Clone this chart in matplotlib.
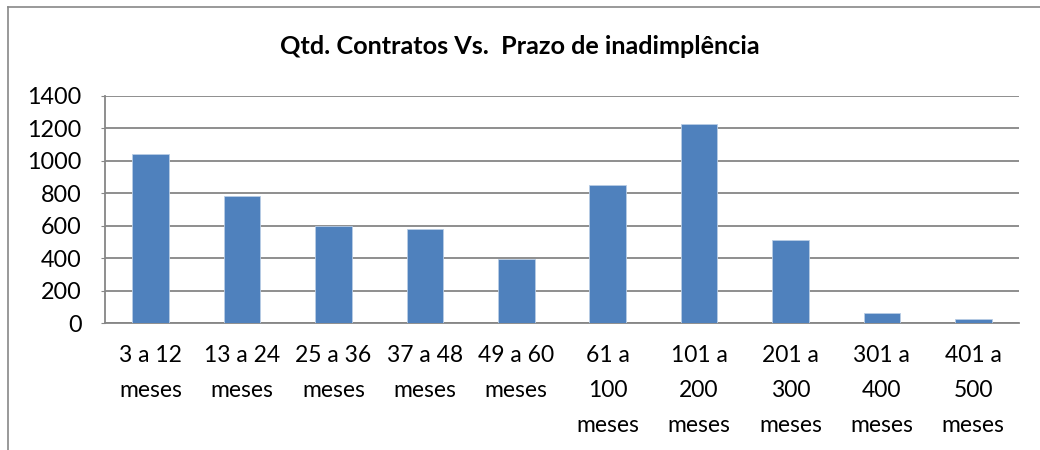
import matplotlib
matplotlib.use("Agg")
from matplotlib import pyplot as plt
from matplotlib.lines import Line2D

# categorias e valores
categories = ["3 a 12\nmeses", "13 a 24\nmeses", "25 a 36\nmeses", "37 a 48\nmeses",
              "49 a 60\nmeses", "61 a\n100\nmeses", "101 a\n200\nmeses", "201 a\n300\nmeses",
              "301 a\n400\nmeses", "401 a\n500\nmeses"]
contratos = [1040, 785, 600, 582, 397, 850, 1230, 512, 62, 22]
y_ticks = [0, 200, 400, 600, 800, 1000, 1200, 1400]

title = "Qtd. Contratos Vs.  Prazo de inadimplência"

plt.rcParams['font.family'] = ['Lato', 'DejaVu Sans']

fig = plt.figure(figsize=(10.4, 4.5), dpi=100)
ax = fig.add_axes([105/1040, 1 - 323/450, (1019-105)/1040, (323-96)/450])

x = list(range(len(categories)))
ax.bar(x, contratos, width=0.4, color='#4F81BD', edgecolor='#B9CDE5', linewidth=0.6, zorder=3)

ax.set_xlim(-0.5, len(categories) - 0.5)
ax.set_ylim(0, 1400)
ax.set_yticks(y_ticks)
ax.set_xticks(x)
ax.set_xticklabels(categories, linespacing=1.82, fontsize=16.5, va='top')
ax.tick_params(axis='x', length=0, pad=16)
ax.tick_params(axis='y', length=3, color='#868686', labelsize=16.8, pad=14)

ax.grid(axis='y', color='#868686', linewidth=1.3, zorder=0)
for side in ['top', 'right']:
    ax.spines[side].set_visible(False)
ax.spines['left'].set_color('#868686')
ax.spines['bottom'].set_color('#868686')
ax.spines['left'].set_linewidth(1.3)
ax.spines['bottom'].set_linewidth(1.3)

fig.text(520/1040, 1 - 47/450, title, ha='center', va='center',
         fontsize=18.2, fontweight='bold')

# borda do grafico (so esquerda e topo aparecem no recorte)
fig.add_artist(Line2D([8/1040, 8/1040], [0, 1 - 7/450], color='#888888', linewidth=1.2,
                      transform=fig.transFigure))
fig.add_artist(Line2D([8/1040, 1], [1 - 7/450, 1 - 7/450], color='#888888', linewidth=1.2,
                      transform=fig.transFigure))

fig.savefig("out.png", dpi=100)
